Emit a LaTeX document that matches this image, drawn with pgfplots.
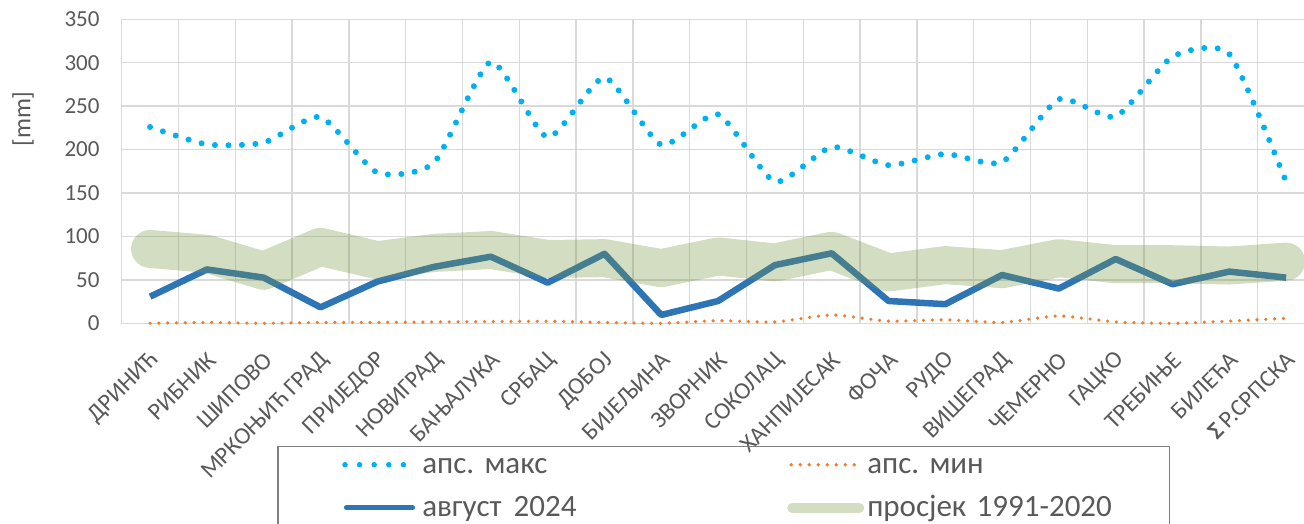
\documentclass[border=0pt]{standalone}
\usepackage{fontspec}
\setmainfont{Carlito}
\usepackage{pgfplots}
\usepackage{pgfplotstable}
\pgfplotsset{compat=1.18}
\frenchspacing
\definecolor{maxc}{HTML}{00B0F0}
\definecolor{minc}{HTML}{ED7D31}
\definecolor{augc}{HTML}{2E75B6}
\definecolor{avgc}{RGB}{118,148,64}
\definecolor{gridc}{HTML}{D9D9D9}
\definecolor{txtc}{HTML}{595959}
\definecolor{legc}{HTML}{808080}

\pgfplotstableread{
x  max    min   aug   avg
0  226    0     30.7  85.6
1  206    1     62    80
2  208    0     52.6  60.5
3  237.5  1     18.4  88
4  173.5  1     48    72.6
5  185    1.5   65    81
6  301    2     76.7  84.4
7  214    2.3   46.8  74
8  283    1     80    75
9  205.5  0     9.6   63.5
10 240.5  3     25.7  77
11 163    1.5   67    70
12 203    9.6   80.6  83.5
13 182    2.5   25.7  58.5
14 195    4     22    67
15 185.5  1     55.6  62.3
16 258    8.5   40    75
17 238    1.5   74    68
18 307    0     45    68
19 310    2.5   59.5  66.5
20 163    5.8   52.6  71
}\data

\begin{document}
\begin{tikzpicture}[x=1pt,y=1pt]
\useasboundingbox (0,0) rectangle (1304,524);
\clip (0,0) rectangle (1304,524);
\begin{axis}[
  at={(121.7pt,200.7pt)}, anchor=south west,
  scale only axis, width=1192.8pt, height=304pt,
  xmin=-0.5, xmax=20.5, ymin=0, ymax=350,
  clip=false,
  ytick={0,50,...,350},
  xtick={0,...,20},
  xticklabels={ДРИНИЋ,РИБНИК,ШИПОВО,МРКОЊИЋ ГРАД,ПРИЈЕДОР,НОВИГРАД,БАЊАЛУКА,СРБАЦ,ДОБОЈ,БИЈЕЉИНА,ЗВОРНИК,СОКОЛАЦ,ХАНПИЈЕСАК,ФОЧА,РУДО,ВИШЕГРАД,ЧЕМЕРНО,ГАЦКО,ТРЕБИЊЕ,БИЛЕЋА,{{\bfseries Σ}\,Р.СРПСКА}},
  minor xtick={-0.5,0.5,...,20.5},
  ymajorgrids=true, xminorgrids=true, xmajorgrids=false,
  major grid style={draw=gridc, line width=1.5pt},
  minor grid style={draw=gridc, line width=1.5pt},
  axis line style={draw=gridc, line width=1.5pt},
  major tick length=0pt, minor tick length=0pt,
  tick style={draw=none},
  /pgf/number format/assume math mode=true,
  yticklabel style={font=\fontsize{23}{27}\selectfont, text=txtc, inner sep=0pt, anchor=east, xshift=-22pt},
  xticklabel style={font=\fontsize{24}{28}\selectfont, text=txtc, anchor=east, inner sep=0pt, xshift=5pt, yshift=-33pt, rotate=45},
  ylabel={[mm]},
  ylabel style={at={(axis description cs:-0.0827,0.672)}, anchor=center, font=\fontsize{25}{29}\selectfont, text=txtc},
  legend columns=2,
  legend style={
    at={(axis description cs:0.1302,-0.4036)}, anchor=north west,
    draw=legc, line width=1.5pt, fill=none,
    inner xsep=3pt, inner ysep=6pt,
    font=\fontsize{31}{36}\selectfont, text=txtc,
    row sep=8pt, column sep=0pt,
    cells={anchor=base west},
    nodes={inner xsep=3pt, inner ysep=0pt, text width=283pt, text height=21pt, text depth=7pt, align=left},
    /tikz/column 4/.style={nodes={text width=296pt}},
  },
]
\addplot[maxc, line width=6pt, line cap=round, dash pattern=on 0pt off 13.5pt, smooth, tension=0.36,
  legend image code/.code={\path (-60pt,0pt) (72pt,9pt); \draw[maxc, line width=5.5pt, line cap=round, dash pattern=on 0pt off 14.6pt] (1pt,9pt) -- (60pt,9pt);}]
  table[x=x, y=max] {\data};
\addlegendentry{апс. макс}
\addplot[minc, line width=3.6pt, line cap=round, dash pattern=on 0pt off 8.8pt, smooth, tension=0.36,
  legend image code/.code={\path (-60pt,0pt) (56pt,9pt); \draw[minc, line width=3.6pt, line cap=round, dash pattern=on 0pt off 9pt] (4pt,9pt) -- (68pt,9pt);}]
  table[x=x, y=min] {\data};
\addlegendentry{апс. мин}
\addplot[augc, line width=6.5pt, line join=round,
  legend image code/.code={\path (-60pt,0pt) (72pt,9pt); \draw[augc, line width=5.3pt, line cap=round] (2.5pt,9pt) -- (68.5pt,9pt);}]
  table[x=x, y=aug] {\data};
\addlegendentry{август\hspace{12pt}2024}
\addplot[avgc, draw opacity=0.32, line width=38pt, line join=round, line cap=round,
  legend image code/.code={\path (-60pt,0pt) (56pt,9pt); \draw[avgc, draw opacity=0.32, line width=10pt, line cap=round] (5pt,9pt) -- (72pt,9pt);}]
  table[x=x, y=avg] {\data};
\addlegendentry{просјек 1991-2020}
\end{axis}
\end{tikzpicture}
\end{document}
